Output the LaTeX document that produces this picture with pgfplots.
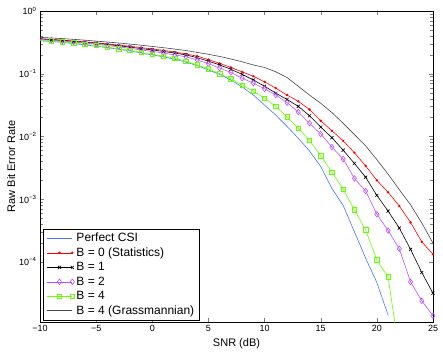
\documentclass[border=0pt]{standalone}
\usepackage{fontspec}
\setmainfont{Liberation Sans}
\usepackage{pgfplots}
\pgfplotsset{compat=1.18}
\usepackage{pgfplotstable}

\definecolor{csiblue}{RGB}{70,120,255}
\definecolor{bpurple}{RGB}{190,80,255}
\definecolor{bgreen}{RGB}{102,255,0}
\definecolor{grassgray}{RGB}{70,70,70}

% raw BER vs SNR; nan = no point
\pgfplotstableread{
snr perf     b0       b1       b2       b4       grass
-10 0.3350   0.3631   0.3589   0.3508   0.3428   0.3802
-9  0.3273   0.3532   0.3491   0.3428   0.3334   0.3715
-8  0.3162   0.3428   0.3388   0.3311   0.3236   0.3631
-7  0.3020   0.3327   0.3273   0.3199   0.3090   0.3532
-6  0.2884   0.3221   0.3162   0.3090   0.2951   0.3428
-5  0.2754   0.3112   0.3055   0.2951   0.2818   0.3311
-4  0.2600   0.2985   0.2917   0.2818   0.2661   0.3199
-3  0.2455   0.2864   0.2786   0.2692   0.2512   0.3090
-2  0.2317   0.2742   0.2661   0.2541   0.2371   0.2972
-1  0.2138   0.2612   0.2512   0.2399   0.2188   0.2851
0   0.1995   0.2483   0.2399   0.2265   0.2042   0.2723
1   0.1862   0.2355   0.2265   0.2138   0.1905   0.2600
2   0.1698   0.2213   0.2138   0.1995   0.1758   0.2472
3   0.1531   0.2065   0.1995   0.1862   0.1585   0.2344
4   0.1349   0.1905   0.1799   0.1660   0.1380   0.2188
5   0.1148   0.1679   0.1585   0.1445   0.1202   0.2042
6   0.09772  0.1462   0.1380   0.1230   0.1000   0.1884
7   0.07943  0.1259   0.1175   0.1047   0.08318  0.1718
8   0.06166  0.1072   0.09772  0.08511  0.06607  0.1549
9   0.04571  0.09120  0.07943  0.07079  0.05248  0.1380
10  0.03162  0.07413  0.06310  0.05754  0.04074  0.1259
11  0.02188  0.05888  0.04898  0.04571  0.03020  0.1072
12  0.01445  0.04571  0.03890  0.03467  0.02042  0.08710
13  0.009333 0.03631  0.03020  0.02455  0.01349  0.06310
14  0.005888 0.02692  0.02138  0.01622  0.008710 0.04571
15  0.003311 0.01778  0.01413  0.01096  0.004898 0.03388
16  0.001479 0.01230  0.009550 0.006761 0.002692 0.02399
17  7.943e-4 0.008511 0.006026 0.004365 0.001445 0.01622
18  3.020e-4 0.005495 0.003715 0.002138 6.761e-4 0.01072
19  1.148e-4 0.003388 0.002239 0.001349 3.236e-4 0.007079
20  4.677e-5 0.001995 0.001148 5.754e-4 1.072e-4 0.004266
21  1.413e-5 0.001288 6.457e-4 3.162e-4 5.754e-5 0.002512
22  nan      7.762e-4 3.467e-4 1.622e-4 3.548e-6 0.001413
23  nan      4.266e-4 1.585e-4 4.786e-5 nan      8.128e-4
24  nan      2.089e-4 6.761e-5 2.399e-5 nan      4.169e-4
25  nan      1.318e-4 3.162e-5 1.380e-5 nan      1.995e-4
}\bertable

\begin{document}
\begin{tikzpicture}
\begin{axis}[
  scale only axis, width=393pt, height=311pt,
  xmin=-10, xmax=25, ymode=log, ymin=1.1e-5, ymax=1,
  xtick={-10,-5,...,25},
  xticklabels={−10,−5,0,5,10,15,20,25},
  ytick={1e-4,1e-3,1e-2,1e-1,1},
  yticklabels={10\textsuperscript{−4},10\textsuperscript{−3},10\textsuperscript{−2},10\textsuperscript{−1},10\textsuperscript{0}},
  tick pos=both, tick align=inside,
  axis line style={line width=0.5pt},
  tick label style={font=\fontsize{9}{11}\selectfont},
  label style={font=\fontsize{11}{13}\selectfont},
  xlabel={SNR (dB)}, ylabel={Raw Bit Error Rate},
  xlabel style={at={(axis description cs:0.5,-0.071)}, anchor=center},
  ylabel style={at={(axis description cs:-0.073,0.5)}, anchor=center},
  legend style={at={(0.008,0.006)}, anchor=south west, draw=black, line width=0.5pt,
    font=\fontsize{12}{14}\selectfont, row sep=0.6pt},
  legend cell align=left,
  legend image code/.code={\draw[mark repeat=2,mark phase=2,#1] plot coordinates {(0cm,0cm) (0.45cm,0cm) (0.9cm,0cm)};},
  every axis plot/.append style={line width=0.6pt},
]
\addplot[color=csiblue] table[x=snr,y=perf]{\bertable};
\addlegendentry{Perfect CSI}
\addplot[color=red, mark=*, mark size=0.9pt, mark indices={2,...,36}] table[x=snr,y=b0]{\bertable};
\addlegendentry{B = 0 (Statistics)}
\addplot[color=black, mark=x, mark size=2.2pt, mark indices={2,...,36}] table[x=snr,y=b1]{\bertable};
\addlegendentry{B = 1}
\addplot[color=bpurple, mark=diamond, mark size=2.8pt, mark indices={2,...,36}] table[x=snr,y=b2]{\bertable};
\addlegendentry{B = 2}
\addplot[color=bgreen, mark=square, mark size=2.2pt, mark indices={2,...,32}] table[x=snr,y=b4]{\bertable};
\addlegendentry{B = 4}
\addplot[color=grassgray] table[x=snr,y=grass]{\bertable};
\addlegendentry{B = 4 (Grassmannian)}
\end{axis}
\pgfresetboundingbox
\path ([xshift=-40pt,yshift=-29pt]current axis.south west) rectangle ([xshift=10pt,yshift=11pt]current axis.north east);
\end{tikzpicture}
\end{document}
